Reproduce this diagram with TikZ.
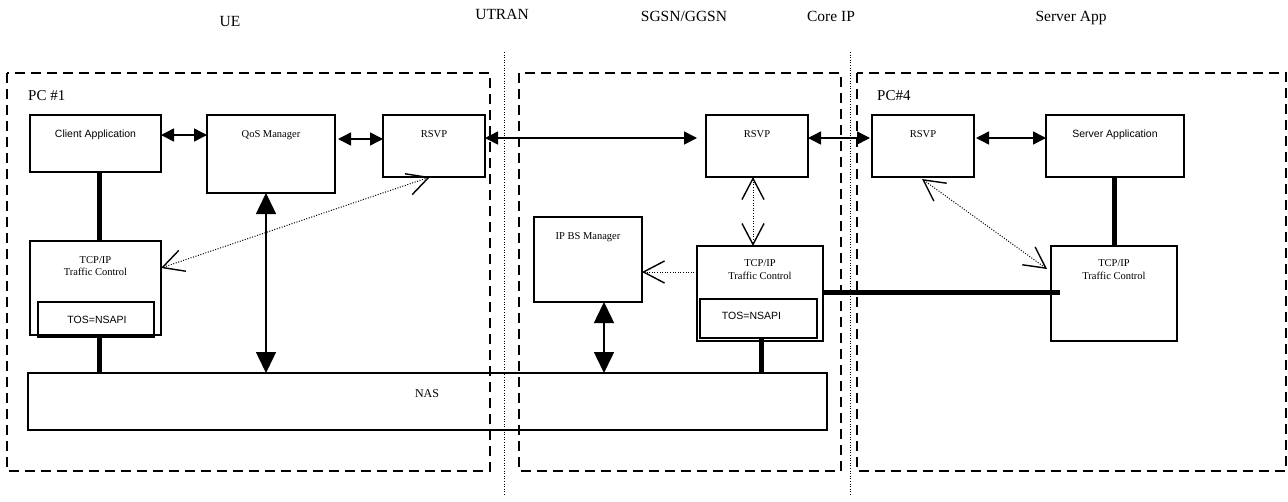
\documentclass[tikz,border=0pt]{standalone}
\usepackage{fontspec}
\setmainfont{Liberation Serif}
\newfontfamily\arialfont{Liberation Sans}
\usetikzlibrary{arrows.meta,calc}

\begin{document}
\begin{tikzpicture}[x=1pt,y=-1pt,
  box/.style={draw, line width=1.4pt, inner sep=0pt, outer sep=0pt, anchor=north west},
  zone/.style={draw, line width=1.6pt, dash pattern=on 10pt off 6pt},
  divider/.style={line width=1pt, dash pattern=on 1pt off 1.6pt},
  lab/.style={anchor=base, inner sep=0pt, font=\fontsize{10.5}{12}\selectfont},
  sanslab/.style={anchor=base, inner sep=0pt, font=\arialfont\fontsize{10.5}{12}\selectfont},
  heading/.style={anchor=base, inner sep=0pt, font=\fontsize{15.5}{18}\selectfont},
  pclab/.style={anchor=base west, inner sep=0pt, font=\fontsize{15}{18}\selectfont},
  sig/.style={line width=1.5pt, {Triangle[length=13pt,width=13pt]}-{Triangle[length=13pt,width=13pt]}},
  bigsig/.style={line width=1.5pt, {Triangle[length=21pt,width=20pt]}-{Triangle[length=21pt,width=20pt]}},
  link/.style={line width=5pt},
  ctrl/.style={line width=1pt, dash pattern=on 1pt off 1.6pt},
  barb/.tip={Straight Barb[length=21pt,width=22pt,line width=1.4pt]},
]
\useasboundingbox (0,0) rectangle (1288,501);

% domain headings
\node[heading] (hUE)    at (230,26) {UE};
\node[heading] (hUTRAN) at (502,19) {UTRAN};
\node[heading] (hSGSN)  at (684,21) {SGSN/GGSN};
\node[heading] (hCore)  at (831,21) {Core IP};
\node[heading] (hSrv)   at (1071,21) {Server App};

% domain borders
\draw[divider] (504,52) -- (504,495);
\draw[divider] (850,52) -- (850,495);
\draw[zone] (7,73) rectangle (490,471);
\draw[zone] (519,73) rectangle (841,471);
\draw[zone] (857,73) rectangle (1286,471);

\node[pclab] (pc1) at (28,100) {PC \#1};
\node[pclab] (pc4) at (877,100) {PC\#4};

% UE side
\node[box, minimum width=131pt, minimum height=57pt] (client) at (30,115) {};
\node[box, minimum width=128pt, minimum height=78pt] (qos) at (207,115) {};
\node[box, minimum width=102pt, minimum height=62pt] (rsvpL) at (383,115) {};
\node[box, minimum width=131pt, minimum height=94pt] (tcpL) at (30,241) {};
\node[box, minimum width=116pt, minimum height=35pt] (tosL) at (38,302) {};
\node[box, minimum width=799pt, minimum height=57pt] (nas) at (28,373) {};

% SGSN/GGSN side
\node[box, minimum width=102pt, minimum height=62pt] (rsvpM) at (706,115) {};
\node[box, minimum width=108pt, minimum height=85pt] (ipbs) at (534,217) {};
\node[box, minimum width=126pt, minimum height=95pt] (tcpM) at (697,246) {};
\node[box, minimum width=117pt, minimum height=39pt] (tosM) at (700,299) {};

% server side
\node[box, minimum width=102pt, minimum height=62pt] (rsvpR) at (872,115) {};
\node[box, minimum width=138pt, minimum height=62pt] (server) at (1046,115) {};
\node[box, minimum width=126pt, minimum height=95pt] (tcpR) at (1051,246) {};

% box texts
\node[sanslab] (tClient) at ($(client.north)+(0,22)$) {Client Application};
\node[lab] (tQos) at ($(qos.north)+(0,22)$) {QoS Manager};
\node[lab] (tRsvpL) at ($(rsvpL.north)+(0,22)$) {RSVP};
\node[lab] (tTcpL1) at ($(tcpL.north)+(0,22)$) {TCP/IP};
\node[lab] (tTcpL2) at ($(tcpL.north)+(0,34)$) {Traffic Control};
\node[sanslab] (tTosL) at ($(tosL.south)+(1,-14)$) {TOS=NSAPI};
\node[lab, font=\fontsize{12}{14}\selectfont] (tNas) at (427,397) {NAS};
\node[lab] (tRsvpM) at ($(rsvpM.north)+(0,22)$) {RSVP};
\node[lab] (tIpbs) at ($(ipbs.north)+(0,22)$) {IP BS Manager};
\node[lab] (tTcpM1) at ($(tcpM.north)+(0,20)$) {TCP/IP};
\node[lab] (tTcpM2) at ($(tcpM.north)+(0,33)$) {Traffic Control};
\node[sanslab] (tTosM) at ($(tosM.south)+(-7,-19)$) {TOS=NSAPI};
\node[lab] (tRsvpR) at ($(rsvpR.north)+(0,22)$) {RSVP};
\node[sanslab] (tServer) at ($(server.north)+(0,22)$) {Server Application};
\node[lab] (tTcpR1) at ($(tcpR.north)+(0,20)$) {TCP/IP};
\node[lab] (tTcpR2) at ($(tcpR.north)+(0,33)$) {Traffic Control};

% signalling arrows
\draw[sig] (client.east |- 0,135) -- (qos.west |- 0,135);
\draw[sig] ($(qos.east |- 0,139)+(3,0)$) -- (rsvpL.west |- 0,139);
\draw[sig] (rsvpL.east |- 0,138) -- ($(rsvpM.west |- 0,138)+(-9,0)$);
\draw[sig] (rsvpM.east |- 0,138) -- ($(rsvpR.west |- 0,138)+(-2,0)$);
\draw[sig] ($(rsvpR.east |- 0,138)+(2,0)$) -- (server.west |- 0,138);
\draw[bigsig] (qos.south -| 266,0) -- (nas.north -| 266,0);
\draw[bigsig] (ipbs.south -| 604,0) -- (nas.north -| 604,0);

% data path links
\draw[link] (client.south -| 99,0) -- (tcpL.north -| 99,0);
\draw[link] (tosL.south -| 99,0) -- (nas.north -| 99,0);
\draw[link] (tosM.south -| 761,0) -- (nas.north -| 761,0);
\draw[link] (server.south -| 1114,0) -- (tcpR.north -| 1114,0);
\draw[link] (tcpM.east |- 0,292) -- ($(tcpR.west |- 0,292)+(9,0)$);

% traffic control interactions
\draw[ctrl, {barb}-{barb}] (rsvpL.south -| 430,0) -- (tcpL.east |- 0,268);
\draw[ctrl, {barb}-{barb}] (rsvpM.south -| 753,0) -- (tcpM.north -| 753,0);
\draw[ctrl, -{barb}] (tcpM.west |- 0,272) -- (ipbs.east |- 0,272);
\draw[ctrl, {barb}-{barb}] ($(rsvpR.south -| 922,0)+(0,2)$) -- ($(tcpR.west |- 0,269)+(-4,0)$);
\end{tikzpicture}
\end{document}
